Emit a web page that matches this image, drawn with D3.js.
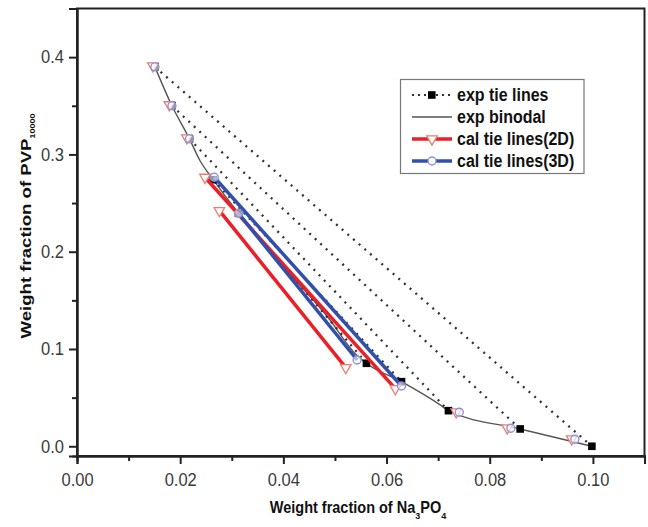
<!DOCTYPE html>
<html>
<head>
<meta charset="utf-8">
<script src="https://cdn.jsdelivr.net/npm/d3@7"></script>
<style>
  body { margin: 0; background: #fff; }
  svg text { font-family: "Liberation Sans", Arial, sans-serif; }
</style>
</head>
<body>
<div id="canvas"></div>
<script>
"use strict"

/* data */
let binodalX = [0.0151, 0.0184, 0.0218, 0.0238, 0.0264, 0.0313, 0.0403, 0.0490, 0.0536, 0.0561, 0.0629, 0.0704, 0.0720, 0.0859, 0.0998];
let binodalY = [0.390, 0.350, 0.316, 0.294, 0.274, 0.2395, 0.183, 0.130, 0.097, 0.0853, 0.0664, 0.0425, 0.0366, 0.0178, 0.000];

let expTopX = [0.0151, 0.0184, 0.0218, 0.0264, 0.0313];
let expTopY = [0.390, 0.350, 0.316, 0.274, 0.2395];
let expBotX = [0.0998, 0.0859, 0.0720, 0.0629, 0.0561];
let expBotY = [0.000, 0.0178, 0.0366, 0.0664, 0.0853];

let cal2dTopX = [0.0248, 0.0276];
let cal2dTopY = [0.2765, 0.2422];
let cal2dBotX = [0.0617, 0.0521];
let cal2dBotY = [0.0592, 0.0808];
let cal2dDotX = [0.0147, 0.0179, 0.0213, 0.0735, 0.0834, 0.0959];
let cal2dDotY = [0.391, 0.351, 0.317, 0.0353, 0.0188, 0.0075];

let cal3dTopX = [0.0266, 0.0313];
let cal3dTopY = [0.2765, 0.2395];
let cal3dBotX = [0.0629, 0.0543];
let cal3dBotY = [0.062, 0.0887];
let cal3dDotX = [0.0151, 0.0184, 0.0218, 0.0741, 0.0841, 0.0965];
let cal3dDotY = [0.390, 0.350, 0.316, 0.035, 0.0185, 0.0072];

let xTicks = [0, 0.02, 0.04, 0.06, 0.08, 0.10];
let xMinor = [0.01, 0.03, 0.05, 0.07, 0.09];
let yTicks = [0, 0.1, 0.2, 0.3, 0.4];
let yMinor = [0.05, 0.15, 0.25, 0.35];

let legendNames = ["exp tie lines", "exp binodal", "cal tie lines(2D)", "cal tie lines(3D)"];

/* canvas */
let drawing = d3.select("#canvas")
  .append("svg")
  .attr("width", 648)
  .attr("height", 527);

let plotLeft = 77, plotRight = 644.5, plotTop = 8.5, plotBottom = 456;

let x = d3.scaleLinear().domain([0, 0.11]).range([plotLeft, plotRight]);
let y = d3.scaleLinear().domain([-0.01, 0.45]).range([plotBottom, plotTop]);

const RED = "#ec1f26", BLUE = "#3150ab";
const TRI = "#f27a6e", CIRC = "#8796e2";
const STRETCH = "scale(1,1.1)";

/* frame */
drawing.append("rect")
  .attr("x", plotLeft).attr("y", plotTop)
  .attr("width", plotRight - plotLeft).attr("height", plotBottom - plotTop)
  .attr("fill", "none").attr("stroke", "#222").attr("stroke-width", 2);

/* axes */
drawing.append("g")
  .attr("transform", "translate(0," + plotBottom + ")")
  .call(d3.axisBottom(x).tickValues(xTicks).tickFormat(d3.format(".2f")).tickSize(8).tickPadding(8));
drawing.append("g")
  .attr("transform", "translate(0," + plotBottom + ")")
  .call(d3.axisBottom(x).tickValues(xMinor).tickFormat("").tickSize(5));

drawing.append("g")
  .attr("transform", "translate(" + plotLeft + ",0)")
  .call(d3.axisLeft(y).tickValues(yTicks).tickFormat(d3.format(".1f")).tickSize(8).tickPadding(5));
drawing.append("g")
  .attr("transform", "translate(" + plotLeft + ",0)")
  .call(d3.axisLeft(y).tickValues(yMinor).tickFormat("").tickSize(5));

drawing.selectAll(".domain").attr("stroke", "#222").attr("stroke-width", 2);
drawing.selectAll(".tick line").attr("stroke", "#222").attr("stroke-width", 2);
drawing.selectAll(".tick text").attr("font-size", 16.5).attr("fill", "#3a3a3a")
  .attr("font-family", "Liberation Sans, Arial, sans-serif")
  .attr("transform", STRETCH);

/* axis titles */
let xTitle = drawing.append("text")
  .attr("transform", "translate(358,513) " + STRETCH)
  .attr("text-anchor", "middle")
  .attr("font-size", 14.5).attr("font-weight", "bold").attr("fill", "#111");
xTitle.append("tspan").text("Weight fraction of Na");
xTitle.append("tspan").attr("font-size", 9).attr("dy", 5).text("3");
xTitle.append("tspan").attr("dy", -5).text("PO");
xTitle.append("tspan").attr("font-size", 9).attr("dy", 5).text("4");

let yTitle = drawing.append("text")
  .attr("transform", "translate(31,226) scale(1,1.2) rotate(-90)")
  .attr("text-anchor", "middle")
  .attr("font-size", 15.5).attr("font-weight", "bold").attr("fill", "#111");
yTitle.append("tspan").text("Weight fraction of PVP");
yTitle.append("tspan").attr("font-size", 7.5).attr("dy", 4).text("10000");

/* exp binodal */
let binodal = d3.zip(binodalX, binodalY);
drawing.append("path")
  .datum(binodal)
  .attr("d", d3.line().x(d => x(d[0])).y(d => y(d[1])).curve(d3.curveMonotoneX))
  .attr("fill", "none").attr("stroke", "#555").attr("stroke-width", 1.4);

/* exp tie lines */
let expTies = d3.range(expTopX.length).map(i => [[expTopX[i], expTopY[i]], [expBotX[i], expBotY[i]]]);
drawing.selectAll(".expTie").data(expTies).enter().append("line")
  .attr("x1", d => x(d[0][0])).attr("y1", d => y(d[0][1]))
  .attr("x2", d => x(d[1][0])).attr("y2", d => y(d[1][1]))
  .attr("stroke", "#333").attr("stroke-width", 2.3)
  .attr("stroke-dasharray", "2,5.5");

let expPts = expTies.flat();
drawing.selectAll(".expPt").data(expPts).enter().append("rect")
  .attr("x", d => x(d[0]) - 3.8).attr("y", d => y(d[1]) - 3.8)
  .attr("width", 7.6).attr("height", 7.6).attr("fill", "#000");

/* cal tie lines 2D */
let tri = d3.symbol().type(d3.symbolTriangle).size(48);
let cal2d = d3.range(cal2dTopX.length).map(i => [[cal2dTopX[i], cal2dTopY[i]], [cal2dBotX[i], cal2dBotY[i]]]);
drawing.selectAll(".cal2d").data(cal2d).enter().append("line")
  .attr("x1", d => x(d[0][0])).attr("y1", d => y(d[0][1]))
  .attr("x2", d => x(d[1][0])).attr("y2", d => y(d[1][1]))
  .attr("stroke", RED).attr("stroke-width", 3.5);

/* cal tie lines 3D */
let cal3d = d3.range(cal3dTopX.length).map(i => [[cal3dTopX[i], cal3dTopY[i]], [cal3dBotX[i], cal3dBotY[i]]]);
drawing.selectAll(".cal3d").data(cal3d).enter().append("line")
  .attr("x1", d => x(d[0][0])).attr("y1", d => y(d[0][1]))
  .attr("x2", d => x(d[1][0])).attr("y2", d => y(d[1][1]))
  .attr("stroke", BLUE).attr("stroke-width", 3.5);

let triPts = cal2d.flat().concat(d3.zip(cal2dDotX, cal2dDotY));
drawing.selectAll(".triPt").data(triPts).enter().append("path")
  .attr("d", tri)
  .attr("transform", d => "translate(" + x(d[0]) + "," + y(d[1]) + ") rotate(180)")
  .attr("fill", "#fff").attr("stroke", TRI).attr("stroke-width", 1.3);

let circPts = cal3d.flat().concat(d3.zip(cal3dDotX, cal3dDotY));
drawing.selectAll(".circPt").data(circPts).enter().append("circle")
  .attr("cx", d => x(d[0])).attr("cy", d => y(d[1])).attr("r", 4)
  .attr("fill", "#fff").attr("fill-opacity", 0.6).attr("stroke", CIRC).attr("stroke-width", 1.4);

/* legend */
let legend = drawing.append("g");
legend.append("rect")
  .attr("x", 400.5).attr("y", 79.5).attr("width", 183.5).attr("height", 94)
  .attr("fill", "#fff").attr("stroke", "#777").attr("stroke-width", 1.2);

let rowY = d3.scalePoint().domain(legendNames).range([95, 161]);
legendNames.forEach(function (name, i) {
  let ly = rowY(name);
  let line = legend.append("line")
    .attr("x1", 412).attr("x2", 452).attr("y1", ly).attr("y2", ly);
  if (i === 0) {
    line.attr("stroke", "#333").attr("stroke-width", 2.2).attr("stroke-dasharray", "2,4");
    legend.append("rect").attr("x", 428).attr("y", ly - 3.8).attr("width", 7.6).attr("height", 7.6).attr("fill", "#000");
  } else if (i === 1) {
    line.attr("stroke", "#555").attr("stroke-width", 1.4);
  } else if (i === 2) {
    line.attr("stroke", RED).attr("stroke-width", 3.5);
    legend.append("path").attr("d", tri)
      .attr("transform", "translate(432," + ly + ") rotate(180)")
      .attr("fill", "#fff").attr("stroke", TRI).attr("stroke-width", 1.3);
  } else {
    line.attr("stroke", BLUE).attr("stroke-width", 3.5);
    legend.append("circle").attr("cx", 432).attr("cy", ly).attr("r", 4)
      .attr("fill", "#fff").attr("stroke", CIRC).attr("stroke-width", 1.4);
  }
  legend.append("text")
    .attr("transform", "translate(457," + (ly + 6) + ") " + STRETCH)
    .attr("font-size", 16).attr("font-weight", "bold").attr("fill", "#111")
    .text(name);
});
</script>
</body>
</html>
